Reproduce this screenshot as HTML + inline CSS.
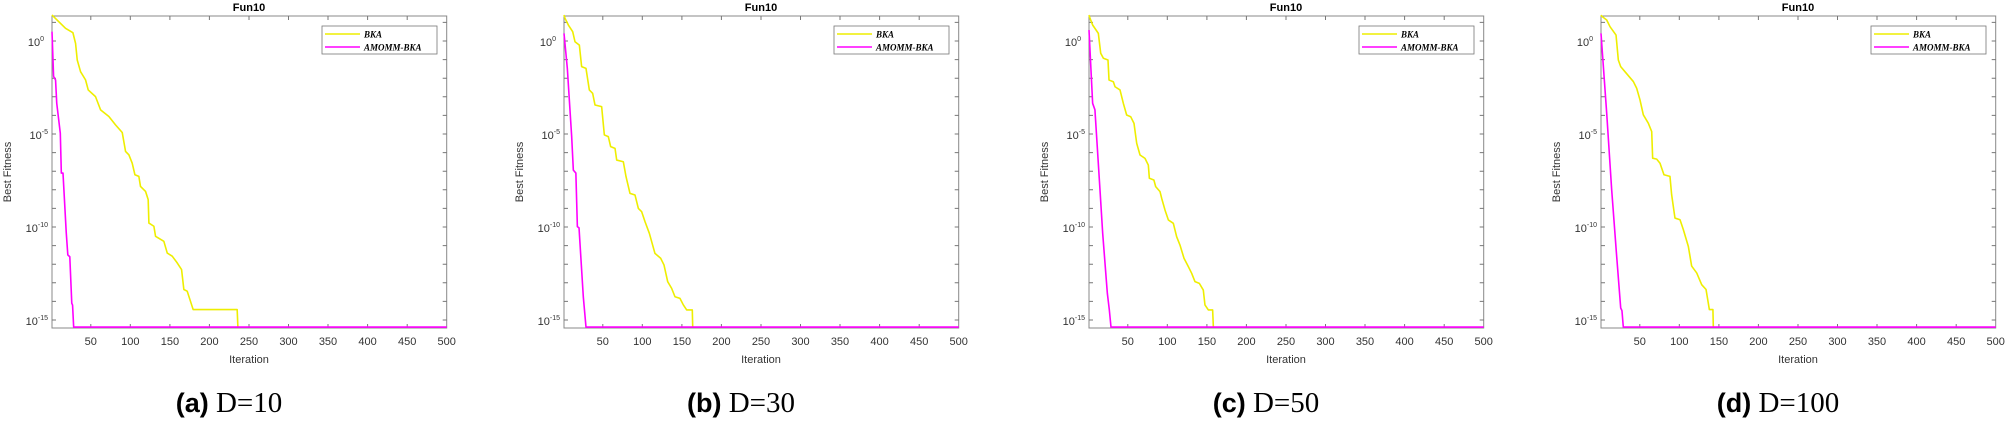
<!DOCTYPE html>
<html><head><meta charset="utf-8"><style>
html,body{margin:0;padding:0;background:#fff;}
svg{display:block;}
.t{font-family:"Liberation Sans",sans-serif;font-size:11px;fill:#333;}
.ttl{font-family:"Liberation Sans",sans-serif;font-size:11px;font-weight:bold;fill:#000;}
.lg{font-family:"Liberation Serif",serif;font-size:9px;font-style:italic;font-weight:bold;fill:#000;}
.cap1{font-family:"Liberation Sans",sans-serif;font-size:27px;font-weight:bold;fill:#000;}
.cap2{font-family:"Liberation Serif",serif;font-size:29px;fill:#000;}
.ax{fill:none;stroke:#888;stroke-width:1;}
.tk{fill:none;stroke:#777;stroke-width:1;}
.y{fill:none;stroke:#eeee00;stroke-width:1.6;vector-effect:non-scaling-stroke;stroke-linejoin:round;}
.m{fill:none;stroke:#f0f;stroke-width:1.6;vector-effect:non-scaling-stroke;stroke-linejoin:round;}
</style></head><body>
<svg width="2007" height="424" viewBox="0 0 2007 424" xmlns="http://www.w3.org/2000/svg">

<!-- Panel a -->
<g transform="translate(52,0)">
<text class="ttl" x="197" y="11" text-anchor="middle">Fun10</text>
<rect class="ax" x="0" y="16" width="394.7" height="312"/>
<path class="tk" d="M0 22.4h4M0 41h4M0 59.6h4M0 78.2h4M0 96.8h4M0 115.4h4M0 134h4M0 152.6h4M0 171.2h4M0 189.8h4M0 208.4h4M0 227h4M0 245.6h4M0 264.2h4M0 282.8h4M0 301.4h4M0 320h4M394.7 22.4h-4M394.7 41h-4M394.7 59.6h-4M394.7 78.2h-4M394.7 96.8h-4M394.7 115.4h-4M394.7 134h-4M394.7 152.6h-4M394.7 171.2h-4M394.7 189.8h-4M394.7 208.4h-4M394.7 227h-4M394.7 245.6h-4M394.7 264.2h-4M394.7 282.8h-4M394.7 301.4h-4M394.7 320h-4M38.8 328v-4M78.3 328v-4M117.9 328v-4M157.4 328v-4M197 328v-4M236.5 328v-4M276 328v-4M315.6 328v-4M355.2 328v-4M38.8 16v4M78.3 16v4M117.9 16v4M157.4 16v4M197 16v4M236.5 16v4M276 16v4M315.6 16v4M355.2 16v4"/>
<text class="t" x="-8" y="46" text-anchor="end">10<tspan dy="-5" font-size="7">0</tspan></text>
<text class="t" x="-4" y="139" text-anchor="end">10<tspan dy="-5" font-size="7">-5</tspan></text>
<text class="t" x="-4" y="232" text-anchor="end">10<tspan dy="-5" font-size="7">-10</tspan></text>
<text class="t" x="-4" y="325" text-anchor="end">10<tspan dy="-5" font-size="7">-15</tspan></text>
<g class="t" text-anchor="middle"><text x="38.8" y="345">50</text><text x="78.3" y="345">100</text><text x="117.9" y="345">150</text><text x="157.4" y="345">200</text><text x="197" y="345">250</text><text x="236.5" y="345">300</text><text x="276" y="345">350</text><text x="315.6" y="345">400</text><text x="355.2" y="345">450</text><text x="394.7" y="345">500</text></g>
<text class="t" x="197" y="363" text-anchor="middle">Iteration</text>
<text class="t" transform="translate(-41,172) rotate(-90)" text-anchor="middle">Best Fitness</text>
<g transform="translate(-0.791,41) scale(0.791,-18.6)">
<polyline class="y" points="1,1.4 2.3,1.34 18.1,0.68 27.4,0.45 30.8,-0.13 32.9,-1.02 37.1,-1.65 43.4,-2.09 46.8,-2.63 56,-2.99 62.4,-3.7 72.9,-4.06 81.3,-4.51 89.8,-4.92 94,-5.94 98.2,-6.12 102.4,-6.57 105.8,-7.19 110.8,-7.28 112.9,-7.82 119.3,-8.09 122.6,-8.53 123.5,-9.79 129.8,-9.96 131.9,-10.5 142.4,-10.77 146.7,-11.4 153,-11.57 159.3,-11.93 164.8,-12.29 167.7,-13.36 171.9,-13.45 177.4,-14.17 179.5,-14.44 235.1,-14.44 236,-15.38"/>
<polyline class="m" points="1,0.5 3,-1.9 5.5,-2.1 7,-3.35 11.5,-4.96 12.8,-7.1 14.9,-7.1 19,-10.3 21,-11.5 23.5,-11.6 26,-14.1 27,-14.2 28.4,-15.38 500,-15.38"/>
</g>
<rect x="270" y="26" width="115" height="28" fill="#fff" stroke="#777" stroke-width="0.8"/>
<line x1="273" y1="34" x2="308" y2="34" stroke="#eeee00" stroke-width="1.6"/>
<line x1="273" y1="47" x2="308" y2="47" stroke="#f0f" stroke-width="1.6"/>
<text class="lg" x="312" y="37.5">BKA</text>
<text class="lg" x="312" y="50.5">AMOMM-BKA</text>
<text x="177" y="412" text-anchor="middle"><tspan class="cap1">(a)</tspan><tspan class="cap2"> D=10</tspan></text>
</g>

<!-- Panel b -->
<g transform="translate(564,0)">
<text class="ttl" x="197" y="11" text-anchor="middle">Fun10</text>
<rect class="ax" x="0" y="16" width="394.7" height="312"/>
<path class="tk" d="M0 22.4h4M0 41h4M0 59.6h4M0 78.2h4M0 96.8h4M0 115.4h4M0 134h4M0 152.6h4M0 171.2h4M0 189.8h4M0 208.4h4M0 227h4M0 245.6h4M0 264.2h4M0 282.8h4M0 301.4h4M0 320h4M394.7 22.4h-4M394.7 41h-4M394.7 59.6h-4M394.7 78.2h-4M394.7 96.8h-4M394.7 115.4h-4M394.7 134h-4M394.7 152.6h-4M394.7 171.2h-4M394.7 189.8h-4M394.7 208.4h-4M394.7 227h-4M394.7 245.6h-4M394.7 264.2h-4M394.7 282.8h-4M394.7 301.4h-4M394.7 320h-4M38.8 328v-4M78.3 328v-4M117.9 328v-4M157.4 328v-4M197 328v-4M236.5 328v-4M276 328v-4M315.6 328v-4M355.2 328v-4M38.8 16v4M78.3 16v4M117.9 16v4M157.4 16v4M197 16v4M236.5 16v4M276 16v4M315.6 16v4M355.2 16v4"/>
<text class="t" x="-8" y="46" text-anchor="end">10<tspan dy="-5" font-size="7">0</tspan></text>
<text class="t" x="-4" y="139" text-anchor="end">10<tspan dy="-5" font-size="7">-5</tspan></text>
<text class="t" x="-4" y="232" text-anchor="end">10<tspan dy="-5" font-size="7">-10</tspan></text>
<text class="t" x="-4" y="325" text-anchor="end">10<tspan dy="-5" font-size="7">-15</tspan></text>
<g class="t" text-anchor="middle"><text x="38.8" y="345">50</text><text x="78.3" y="345">100</text><text x="117.9" y="345">150</text><text x="157.4" y="345">200</text><text x="197" y="345">250</text><text x="236.5" y="345">300</text><text x="276" y="345">350</text><text x="315.6" y="345">400</text><text x="355.2" y="345">450</text><text x="394.7" y="345">500</text></g>
<text class="t" x="197" y="363" text-anchor="middle">Iteration</text>
<text class="t" transform="translate(-41,172) rotate(-90)" text-anchor="middle">Best Fitness</text>
<g transform="translate(-0.791,41) scale(0.791,-18.6)">
<polyline class="y" points="1,1.4 2.3,1.22 6.5,0.86 12,0.5 14.9,-0.04 20.4,-0.22 23.3,-1.38 28.8,-1.47 33,-2.63 37.2,-2.81 40.2,-3.44 48.6,-3.53 52,-5.05 57,-5.14 60,-5.68 65.5,-5.77 67.6,-6.4 76,-6.49 79.4,-7.29 84.4,-8.19 90.8,-8.28 95,-9 99.2,-9.18 103.4,-9.71 108.9,-10.34 116,-11.42 123.2,-11.68 127.4,-12.04 132.1,-12.94 137.1,-13.3 141.3,-13.75 147.6,-13.84 151.9,-14.19 156.1,-14.46 163.2,-14.46 163.7,-15.36"/>
<polyline class="m" points="1,0.41 5.2,-1.47 10.7,-5.14 12.8,-6.94 16,-7.1 17.9,-9.98 20,-10.05 25.4,-13.75 28.8,-15.38 500,-15.38"/>
</g>
<rect x="270" y="26" width="115" height="28" fill="#fff" stroke="#777" stroke-width="0.8"/>
<line x1="273" y1="34" x2="308" y2="34" stroke="#eeee00" stroke-width="1.6"/>
<line x1="273" y1="47" x2="308" y2="47" stroke="#f0f" stroke-width="1.6"/>
<text class="lg" x="312" y="37.5">BKA</text>
<text class="lg" x="312" y="50.5">AMOMM-BKA</text>
<text x="177" y="412" text-anchor="middle"><tspan class="cap1">(b)</tspan><tspan class="cap2"> D=30</tspan></text>
</g>

<!-- Panel c -->
<g transform="translate(1089,0)">
<text class="ttl" x="197" y="11" text-anchor="middle">Fun10</text>
<rect class="ax" x="0" y="16" width="394.7" height="312"/>
<path class="tk" d="M0 22.4h4M0 41h4M0 59.6h4M0 78.2h4M0 96.8h4M0 115.4h4M0 134h4M0 152.6h4M0 171.2h4M0 189.8h4M0 208.4h4M0 227h4M0 245.6h4M0 264.2h4M0 282.8h4M0 301.4h4M0 320h4M394.7 22.4h-4M394.7 41h-4M394.7 59.6h-4M394.7 78.2h-4M394.7 96.8h-4M394.7 115.4h-4M394.7 134h-4M394.7 152.6h-4M394.7 171.2h-4M394.7 189.8h-4M394.7 208.4h-4M394.7 227h-4M394.7 245.6h-4M394.7 264.2h-4M394.7 282.8h-4M394.7 301.4h-4M394.7 320h-4M38.8 328v-4M78.3 328v-4M117.9 328v-4M157.4 328v-4M197 328v-4M236.5 328v-4M276 328v-4M315.6 328v-4M355.2 328v-4M38.8 16v4M78.3 16v4M117.9 16v4M157.4 16v4M197 16v4M236.5 16v4M276 16v4M315.6 16v4M355.2 16v4"/>
<text class="t" x="-8" y="46" text-anchor="end">10<tspan dy="-5" font-size="7">0</tspan></text>
<text class="t" x="-4" y="139" text-anchor="end">10<tspan dy="-5" font-size="7">-5</tspan></text>
<text class="t" x="-4" y="232" text-anchor="end">10<tspan dy="-5" font-size="7">-10</tspan></text>
<text class="t" x="-4" y="325" text-anchor="end">10<tspan dy="-5" font-size="7">-15</tspan></text>
<g class="t" text-anchor="middle"><text x="38.8" y="345">50</text><text x="78.3" y="345">100</text><text x="117.9" y="345">150</text><text x="157.4" y="345">200</text><text x="197" y="345">250</text><text x="236.5" y="345">300</text><text x="276" y="345">350</text><text x="315.6" y="345">400</text><text x="355.2" y="345">450</text><text x="394.7" y="345">500</text></g>
<text class="t" x="197" y="363" text-anchor="middle">Iteration</text>
<text class="t" transform="translate(-41,172) rotate(-90)" text-anchor="middle">Best Fitness</text>
<g transform="translate(-0.791,41) scale(0.791,-18.6)">
<polyline class="y" points="1,1.4 2.3,1.22 5.6,0.86 12.8,0.41 15.8,-0.66 19.2,-0.93 25,-1.02 26.3,-2.1 31.8,-2.19 33.9,-2.46 40.2,-2.63 44.4,-3.35 48.6,-3.98 53.7,-4.07 57.9,-4.43 61.3,-5.5 65.5,-6.13 71.8,-6.31 76,-6.67 77.3,-7.38 83,-7.47 85.3,-7.83 90.8,-8.1 92.9,-8.46 97.1,-9.09 101.3,-9.62 107.6,-9.8 111.8,-10.52 116,-10.97 121.1,-11.68 126.6,-12.13 130.8,-12.49 135,-12.94 140.5,-13.03 145.5,-13.39 147.6,-14.19 151.9,-14.46 157.3,-14.46 158.2,-15.36"/>
<polyline class="m" points="1,0.59 5.6,-3.35 8.5,-3.7 14.9,-8.01 18.3,-10.34 24.2,-13.57 26.7,-14.46 28.8,-15.38 500,-15.38"/>
</g>
<rect x="270" y="26" width="115" height="28" fill="#fff" stroke="#777" stroke-width="0.8"/>
<line x1="273" y1="34" x2="308" y2="34" stroke="#eeee00" stroke-width="1.6"/>
<line x1="273" y1="47" x2="308" y2="47" stroke="#f0f" stroke-width="1.6"/>
<text class="lg" x="312" y="37.5">BKA</text>
<text class="lg" x="312" y="50.5">AMOMM-BKA</text>
<text x="177" y="412" text-anchor="middle"><tspan class="cap1">(c)</tspan><tspan class="cap2"> D=50</tspan></text>
</g>

<!-- Panel d -->
<g transform="translate(1601,0)">
<text class="ttl" x="197" y="11" text-anchor="middle">Fun10</text>
<rect class="ax" x="0" y="16" width="394.7" height="312"/>
<path class="tk" d="M0 22.4h4M0 41h4M0 59.6h4M0 78.2h4M0 96.8h4M0 115.4h4M0 134h4M0 152.6h4M0 171.2h4M0 189.8h4M0 208.4h4M0 227h4M0 245.6h4M0 264.2h4M0 282.8h4M0 301.4h4M0 320h4M394.7 22.4h-4M394.7 41h-4M394.7 59.6h-4M394.7 78.2h-4M394.7 96.8h-4M394.7 115.4h-4M394.7 134h-4M394.7 152.6h-4M394.7 171.2h-4M394.7 189.8h-4M394.7 208.4h-4M394.7 227h-4M394.7 245.6h-4M394.7 264.2h-4M394.7 282.8h-4M394.7 301.4h-4M394.7 320h-4M38.8 328v-4M78.3 328v-4M117.9 328v-4M157.4 328v-4M197 328v-4M236.5 328v-4M276 328v-4M315.6 328v-4M355.2 328v-4M38.8 16v4M78.3 16v4M117.9 16v4M157.4 16v4M197 16v4M236.5 16v4M276 16v4M315.6 16v4M355.2 16v4"/>
<text class="t" x="-8" y="46" text-anchor="end">10<tspan dy="-5" font-size="7">0</tspan></text>
<text class="t" x="-4" y="139" text-anchor="end">10<tspan dy="-5" font-size="7">-5</tspan></text>
<text class="t" x="-4" y="232" text-anchor="end">10<tspan dy="-5" font-size="7">-10</tspan></text>
<text class="t" x="-4" y="325" text-anchor="end">10<tspan dy="-5" font-size="7">-15</tspan></text>
<g class="t" text-anchor="middle"><text x="38.8" y="345">50</text><text x="78.3" y="345">100</text><text x="117.9" y="345">150</text><text x="157.4" y="345">200</text><text x="197" y="345">250</text><text x="236.5" y="345">300</text><text x="276" y="345">350</text><text x="315.6" y="345">400</text><text x="355.2" y="345">450</text><text x="394.7" y="345">500</text></g>
<text class="t" x="197" y="363" text-anchor="middle">Iteration</text>
<text class="t" transform="translate(-41,172) rotate(-90)" text-anchor="middle">Best Fitness</text>
<g transform="translate(-0.791,41) scale(0.791,-18.6)">
<polyline class="y" points="1,1.4 1.8,1.34 8.2,1.13 12.4,0.77 20,0.32 22.9,-1.02 25.9,-1.38 31.3,-1.65 41.9,-2.18 46.1,-2.54 50.3,-3.17 54.5,-3.97 60.8,-4.42 65.1,-4.87 66.3,-6.3 71.4,-6.35 75.6,-6.57 80.6,-7.19 88.2,-7.28 90.3,-8.26 94.5,-9.52 100.9,-9.61 105.1,-10.14 111.4,-11.04 115.6,-12.1 122,-12.47 128.3,-13.1 133.8,-13.36 138,-14.44 142.5,-14.44 143,-15.38"/>
<polyline class="m" points="1,0.41 8.2,-3.88 14.5,-8 20.8,-11.57 25.9,-14.35 27.5,-14.5 29.2,-15.38 500,-15.38"/>
</g>
<rect x="270" y="26" width="115" height="28" fill="#fff" stroke="#777" stroke-width="0.8"/>
<line x1="273" y1="34" x2="308" y2="34" stroke="#eeee00" stroke-width="1.6"/>
<line x1="273" y1="47" x2="308" y2="47" stroke="#f0f" stroke-width="1.6"/>
<text class="lg" x="312" y="37.5">BKA</text>
<text class="lg" x="312" y="50.5">AMOMM-BKA</text>
<text x="177" y="412" text-anchor="middle"><tspan class="cap1">(d)</tspan><tspan class="cap2"> D=100</tspan></text>
</g>
</svg>
</body></html>
